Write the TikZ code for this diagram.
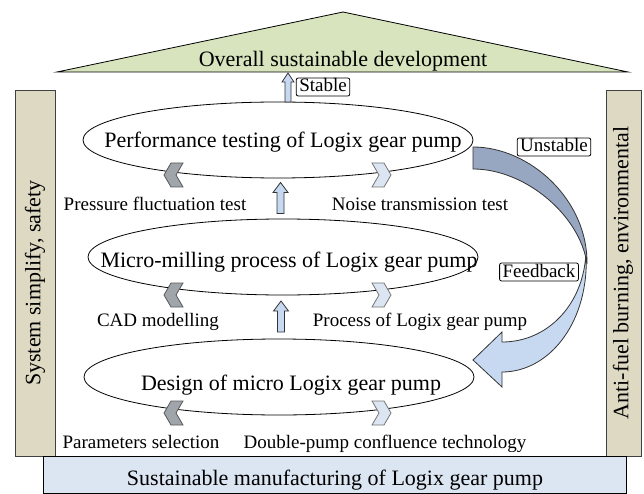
\documentclass[tikz,border=0pt]{standalone}
\usepackage{fontspec}
\setmainfont{Liberation Serif}
\usetikzlibrary{shapes.geometric,calc}
\definecolor{roofgreen}{RGB}{215,228,189}
\definecolor{pillartan}{RGB}{221,217,195}
\definecolor{paleblue}{RGB}{220,230,242}
\definecolor{midblue}{RGB}{198,217,241}
\definecolor{slateblue}{RGB}{151,166,193}
\definecolor{chevgray}{RGB}{160,165,172}

\begin{document}
\begin{tikzpicture}[x=1pt,y=-1pt,line width=0.8pt]
\tikzset{
  ring/.style={ellipse,draw,minimum width=390pt,minimum height=76pt,inner sep=0pt},
  bigtxt/.style={font=\fontsize{22}{24}\selectfont,inner sep=0pt,anchor=base},
  smalltxt/.style={font=\fontsize{19}{21}\selectfont,inner sep=0pt,anchor=base},
  tag/.style={draw,rounded corners=2pt,fill=white,font=\fontsize{19}{21}\selectfont,
    inner xsep=3pt,inner ysep=1pt,text height=13pt,text depth=3pt},
  pillar/.style={draw=black!75,fill=pillartan},
  chevL/.style={draw=black!65,fill=chevgray},
  chevR/.style={draw=black!55,fill=paleblue},
  upblk/.style={draw=black!80,fill=midblue},
}
\useasboundingbox (0,0) rectangle (644,494);

%% Roof
\draw[fill=roofgreen] (57,72) -- (343,12) -- (628,72) -- cycle;
\node[bigtxt] (roof) at (343,67) {Overall sustainable development};

%% Pillars
\draw[pillar] (15,90) rectangle (55,456);
\node[font=\fontsize{22}{24}\selectfont,rotate=90] (lpil) at (35,283) {System simplify, safety};
\draw[pillar] (606,90) rectangle (641,456);
\node[font=\fontsize{22}{24}\selectfont,rotate=90] (rpil) at (623,273) {Anti-fuel burning, environmental};

%% Base
\draw[fill=paleblue] (43,456) rectangle (626,493);
\node[bigtxt] (base) at (335,485) {Sustainable manufacturing of Logix gear pump};

%% Feedback arrow
\draw[draw=black!80,fill=midblue] (586,252) .. controls (590,321) and (550,372) .. (502,372)
  -- (502,387) -- (473,360) -- (502,332) -- (502,342)
  .. controls (548,342) and (584,304) .. (586,252) -- cycle;
\draw[draw=black!80,fill=slateblue] (473,147) .. controls (530,147) and (588,200) .. (587,264)
  .. controls (580,215) and (525,169) .. (473,169) -- cycle;

%% Stages
\node[ring] (perf) at (278,140) {};
\node[bigtxt] at (283,148) {Performance testing of Logix gear pump};
\node[ring] (mill) at (283,257) {};
\node[bigtxt] at (289,267) {Micro-milling process of Logix gear pump};
\node[ring] (des) at (279,377) {};
\node[bigtxt] at (291,390) {Design of micro Logix gear pump};

%% Chevrons
\foreach \y in {175,295,413}{
  \draw[chevL] (164,\y) -- ++(7,-12) -- ++(12,0) -- ++(-7,12) -- ++(7,12) -- ++(-12,0) -- cycle;
  \draw[chevR] (391,\y) -- ++(-7,-12) -- ++(-12,0) -- ++(7,12) -- ++(-7,12) -- ++(12,0) -- cycle;
}

%% Up arrows
\coordinate (up1) at ($(perf.south)!.5!(mill.north)$);
\coordinate (up2) at ($(mill.south)!.5!(des.north)$);
\foreach \c in {up1,up2}
  \draw[upblk] ([yshift=16pt]\c) -- ++(7.5,10) -- ++(-4,0) -- ++(0,21) -- ++(-7,0)
    -- ++(0,-21) -- ++(-4,0) -- cycle;
\coordinate (up0) at (288,73);
\draw[upblk] (up0) -- ++(6,9) -- ++(-3,0) -- ++(0,20) -- ++(-6,0) -- ++(0,-20) -- ++(-3,0) -- cycle;

%% Tags
\node[tag] (stab) at (323,87) {Stable};
\node[tag] (unst) at (554,147) {Unstable};
\node[tag] (feed) at (539,272) {Feedback};

%% Labels
\node[smalltxt] (l1) at (155,211) {Pressure fluctuation test};
\node[smalltxt] (l2) at (420,211) {Noise transmission test};
\node[smalltxt] (l3) at (158,326) {CAD modelling};
\node[smalltxt] (l4) at (420,326) {Process of Logix gear pump};
\node[smalltxt] (l5) at (141,448) {Parameters selection};
\node[smalltxt] (l6) at (385,448) {Double-pump confluence technology};
\end{tikzpicture}
\end{document}
